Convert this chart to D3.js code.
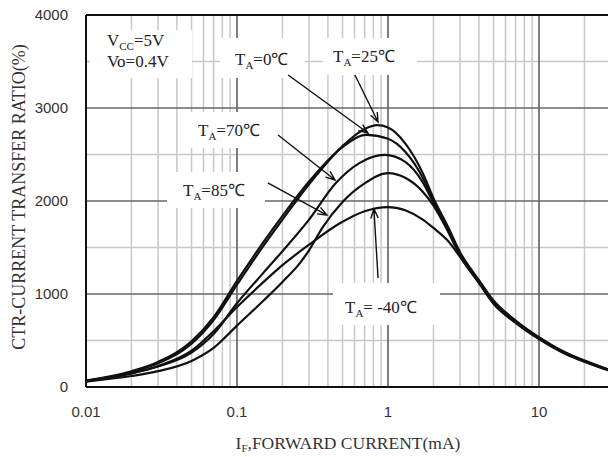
<!DOCTYPE html>
<html><head><meta charset="utf-8">
<script src="https://cdn.jsdelivr.net/npm/d3@7"></script>
<style>html,body{margin:0;padding:0;background:#fff;}svg{display:block;}</style>
</head><body>
<svg id="c" width="608" height="457"></svg>
<script>
// ---- data (forward current mA, CTR %) ----
const ta0   = [[0.01,70],[0.02,170],[0.03,270],[0.05,490],[0.07,750],[0.1,1140],[0.15,1560],[0.2,1840],[0.3,2210],[0.5,2580],[0.72,2710],[1,2670],[1.3,2530],[1.7,2250],[2,2000],[2.5,1700],[3,1430],[4,1140],[5,920],[7,710],[10,530],[15,365],[20,280],[30,178],[50,100],[100,45]];
const ta25  = [[0.01,65],[0.02,160],[0.03,255],[0.05,465],[0.07,720],[0.1,1100],[0.15,1520],[0.2,1800],[0.3,2180],[0.5,2590],[0.7,2775],[0.85,2815],[1,2790],[1.3,2620],[1.7,2300],[2,2030],[2.5,1720],[3,1450],[4,1150],[5,930],[7,715],[10,535],[15,370],[20,285],[30,180],[50,100],[100,45]];
const ta70  = [[0.01,65],[0.02,145],[0.03,220],[0.05,370],[0.07,570],[0.1,900],[0.15,1230],[0.2,1460],[0.3,1800],[0.45,2190],[0.65,2410],[0.95,2495],[1.3,2420],[1.7,2200],[2,1980],[2.5,1690],[3,1420],[4,1130],[5,910],[7,700],[10,525],[15,360],[20,278],[30,176],[50,98],[100,44]];
const ta85  = [[0.01,58],[0.02,118],[0.03,170],[0.05,280],[0.07,420],[0.1,660],[0.15,930],[0.2,1130],[0.26,1330],[0.3,1470],[0.37,1720],[0.5,1990],[0.7,2190],[1,2300],[1.3,2250],[1.7,2100],[2,1950],[2.5,1670],[3,1410],[4,1120],[5,900],[7,695],[10,520],[15,358],[20,275],[30,175],[50,97],[100,44]];
const taM40 = [[0.01,60],[0.02,145],[0.03,225],[0.05,390],[0.07,600],[0.1,860],[0.15,1130],[0.2,1310],[0.3,1530],[0.48,1760],[0.7,1890],[1,1935],[1.3,1900],[1.7,1800],[2,1710],[2.5,1570],[3,1400],[4,1120],[5,895],[7,690],[10,515],[15,355],[20,272],[30,172],[50,96],[100,43]];
const xTicks = [0.01, 0.1, 1, 10];
const xTickLabels = ["0.01", "0.1", "1", "10"];
const yTicks = [0, 1000, 2000, 3000, 4000];
const yTickLabels = ["0", "1000", "2000", "3000", "4000"];

const svg = d3.select("#c");
const x = d3.scaleLog().domain([0.01, 100]).range([86, 690]);
const y = d3.scaleLinear().domain([0, 4000]).range([387, 15]);
const L = 86, T = 15, B = 387, R = 700;

// minor grid
const minorX = [];
[0.01, 0.1, 1, 10].forEach(d => { for (let k = 2; k <= 9; k++) minorX.push(d * k); });
const g = svg.append("g");
g.selectAll(".mx").data(minorX).join("line")
  .attr("x1", d => x(d)).attr("x2", d => x(d)).attr("y1", T).attr("y2", B)
  .attr("stroke", "#c8c8c8").attr("stroke-width", 1.5);
g.selectAll(".my").data([500, 1500, 2500, 3500]).join("line")
  .attr("x1", L).attr("x2", R).attr("y1", d => y(d)).attr("y2", d => y(d))
  .attr("stroke", "#c8c8c8").attr("stroke-width", 1.5);
// major grid
g.selectAll(".Mx").data([0.1, 1, 10]).join("line")
  .attr("x1", d => x(d)).attr("x2", d => x(d)).attr("y1", T).attr("y2", B)
  .attr("stroke", "#555").attr("stroke-width", 1.5);
g.selectAll(".My").data([1000, 2000, 3000]).join("line")
  .attr("x1", L).attr("x2", R).attr("y1", d => y(d)).attr("y2", d => y(d))
  .attr("stroke", "#666").attr("stroke-width", 1.5);

// white label boxes
const boxes = [[90,30,102,48],[220,38,85,40],[323,38,94,37],[185,112,93,36],[167,172,98,36],[333,283,107,42]];
g.selectAll(".bx").data(boxes).join("rect")
  .attr("x", d => d[0]).attr("y", d => d[1]).attr("width", d => d[2]).attr("height", d => d[3])
  .attr("fill", "#fff");

// frame
svg.append("line").attr("x1", L).attr("x2", R).attr("y1", T).attr("y2", T).attr("stroke", "#111").attr("stroke-width", 2);
svg.append("line").attr("x1", L).attr("x2", L).attr("y1", T).attr("y2", B).attr("stroke", "#111").attr("stroke-width", 2);
svg.append("line").attr("x1", L).attr("x2", R).attr("y1", B).attr("y2", B).attr("stroke", "#111").attr("stroke-width", 2);

// curves
const line = d3.line().x(d => x(d[0])).y(d => y(d[1])).curve(d3.curveMonotoneX);
[ta0, ta25, ta70, ta85, taM40].forEach(s => {
  svg.append("path").attr("d", line(s)).attr("fill", "none").attr("stroke", "#111").attr("stroke-width", 2.2);
});

// tick labels
const sans = "'Liberation Sans', Arial, sans-serif";
const serif = "'Liberation Serif', 'Times New Roman', serif";
svg.selectAll(".yt").data(yTicks).join("text")
  .attr("x", 68).attr("y", d => y(d)).attr("dy", "0.36em").attr("text-anchor", "end")
  .attr("font-family", sans).attr("font-size", 15).attr("fill", "#333")
  .text((d, i) => yTickLabels[i]);
svg.selectAll(".xt").data(xTicks).join("text")
  .attr("x", d => x(d)).attr("y", 417).attr("text-anchor", "middle")
  .attr("font-family", sans).attr("font-size", 15).attr("fill", "#333")
  .text((d, i) => xTickLabels[i]);

// axis titles
const xt = svg.append("text").attr("x", 348).attr("y", 449).attr("text-anchor", "middle")
  .attr("font-family", serif).attr("font-size", 17.5).attr("fill", "#333");
xt.append("tspan").text("I");
xt.append("tspan").attr("dy", 3).attr("font-size", 11).text("F");
xt.append("tspan").attr("dy", -3).text(",FORWARD CURRENT(mA)");
svg.append("text").attr("transform", "translate(25,197) rotate(-90)").attr("text-anchor", "middle")
  .attr("font-family", serif).attr("font-size", 18).attr("fill", "#333")
  .text("CTR-CURRENT TRANSFER RATIO(%)");

// labels
function subLabel(px, py, main, sub, rest) {
  const t = svg.append("text").attr("x", px).attr("y", py).attr("font-family", serif).attr("font-size", 17).attr("fill", "#222");
  t.append("tspan").text(main);
  t.append("tspan").attr("dy", 4).attr("font-size", 11).text(sub);
  t.append("tspan").attr("dy", -4).text(rest);
}
subLabel(107, 46, "V", "CC", "=5V");
svg.append("text").attr("x", 107).attr("y", 67).attr("font-family", serif).attr("font-size", 17).attr("fill", "#222").text("Vo=0.4V");
subLabel(235, 65, "T", "A", "=0\u2103");
subLabel(333, 62, "T", "A", "=25\u2103");
subLabel(198, 136, "T", "A", "=70\u2103");
subLabel(183, 196, "T", "A", "=85\u2103");
subLabel(345, 313, "T", "A", "= -40\u2103");

// arrows: [fromCurrent, fromCTR, toCurrent, toCTR]
const arrows = [[0.604,3355,0.859,2850],[0.218,3355,0.737,2731],[0.187,2710,0.446,2226],[0.160,2194,0.394,1849],[0.859,1172,0.807,1914]];
arrows.forEach(a => {
  const x1 = x(a[0]), y1 = y(a[1]), x2 = x(a[2]), y2 = y(a[3]);
  const ang = Math.atan2(y2 - y1, x2 - x1), len = 10, spread = 0.38;
  const p = (s) => [x2 - len * Math.cos(ang + s), y2 - len * Math.sin(ang + s)];
  const h1 = p(spread), h2 = p(-spread);
  svg.append("path").attr("d", `M${x1},${y1}L${x2},${y2}M${h1[0]},${h1[1]}L${x2},${y2}L${h2[0]},${h2[1]}`)
    .attr("fill", "none").attr("stroke", "#111").attr("stroke-width", 1.4);
});
</script>
</body></html>
